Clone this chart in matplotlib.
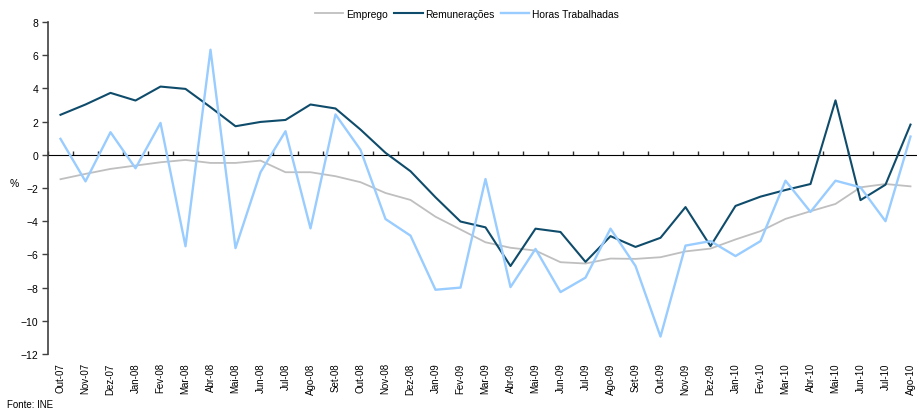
import matplotlib
matplotlib.use('Agg')
import matplotlib.pyplot as plt

plt.rcParams['font.family'] = ['Liberation Sans', 'DejaVu Sans']

# Monthly data, Out-07 .. Ago-10 (%)
months = ['Out-07', 'Nov-07', 'Dez-07', 'Jan-08', 'Fev-08', 'Mar-08', 'Abr-08', 'Mai-08',
          'Jun-08', 'Jul-08', 'Ago-08', 'Set-08', 'Out-08', 'Nov-08', 'Dez-08', 'Jan-09',
          'Fev-09', 'Mar-09', 'Abr-09', 'Mai-09', 'Jun-09', 'Jul-09', 'Ago-09', 'Set-09',
          'Out-09', 'Nov-09', 'Dez-09', 'Jan-10', 'Fev-10', 'Mar-10', 'Abr-10', 'Mai-10',
          'Jun-10', 'Jul-10', 'Ago-10']

emprego = [-1.47, -1.15, -0.85, -0.65, -0.45, -0.31, -0.49, -0.49,
           -0.35, -1.05, -1.05, -1.29, -1.65, -2.3, -2.72, -3.73,
           -4.5, -5.27, -5.6, -5.77, -6.47, -6.55, -6.25, -6.27,
           -6.17, -5.82, -5.65, -5.1, -4.6, -3.86, -3.4, -2.96,
           -1.96, -1.76, -1.9]

remuneracoes = [2.41, 3.03, 3.73, 3.27, 4.11, 3.97, 2.87, 1.72,
                1.98, 2.1, 3.03, 2.79, 1.52, 0.12, -0.99, -2.56,
                -4.02, -4.37, -6.7, -4.45, -4.65, -6.45, -4.9, -5.55,
                -5.0, -3.15, -5.5, -3.08, -2.52, -2.12, -1.76, 3.28,
                -2.73, -1.8, 1.82]

horas = [0.96, -1.6, 1.36, -0.81, 1.92, -5.51, 6.33, -5.62,
         -1.05, 1.42, -4.43, 2.43, 0.3, -3.87, -4.87, -8.13,
         -8.0, -1.46, -7.97, -5.67, -8.27, -7.4, -4.45, -6.7,
         -10.95, -5.47, -5.2, -6.1, -5.2, -1.56, -3.44, -1.56,
         -1.96, -4.0, 1.1]

x = list(range(len(months)))

fig = plt.figure(figsize=(9.17, 4.14), dpi=100)
ax = fig.add_axes([48 / 917, 59 / 414, 875 / 917, 332 / 414])

ax.plot(x, emprego, color='#BFBFBF', linewidth=1.3, label='Emprego')
ax.plot(x, remuneracoes, color='#0F4C6B', linewidth=1.5, label='Remunerações')
ax.plot(x, horas, color='#99CCFF', linewidth=1.7, label='Horas Trabalhadas')

ax.set_xlim(-0.5, len(months) - 0.5)
ax.set_ylim(-12, 8)
ax.set_yticks(range(-12, 9, 2))
ax.tick_params(axis='y', direction='out', length=4, width=1, color='#404040',
               labelsize=7.5, pad=3)

# category labels at the bottom, no ticks there
ax.set_xticks(x)
ax.set_xticklabels(months, rotation=90, fontsize=7)
ax.tick_params(axis='x', length=0, pad=6)

for side in ['top', 'right', 'bottom']:
    ax.spines[side].set_visible(False)
ax.spines['left'].set_color('#404040')
ax.spines['left'].set_linewidth(1.2)

# horizontal axis line at zero with tick marks between categories
sec = ax.secondary_xaxis(0.6)
sec.set_xticks([i - 0.5 for i in range(len(months) + 1)])
sec.set_xticklabels([])
sec.tick_params(direction='out', length=3, width=1, color='#303030')
sec.spines['bottom'].set_color('#303030')
sec.spines['bottom'].set_linewidth(1.2)

ax.set_ylabel('%', rotation=0, fontsize=7.5)
ax.yaxis.set_label_coords(-0.038, 0.5)

fig.legend(loc='center', bbox_to_anchor=(0.509, 0.964), ncol=3, frameon=False,
           fontsize=7.4, handlelength=2.8, handletextpad=0.25, columnspacing=0.6)

fig.text(0.008, 0.022, 'Fonte: INE', fontsize=7, va='center', ha='left')

fig.savefig('out.png', dpi=100)
